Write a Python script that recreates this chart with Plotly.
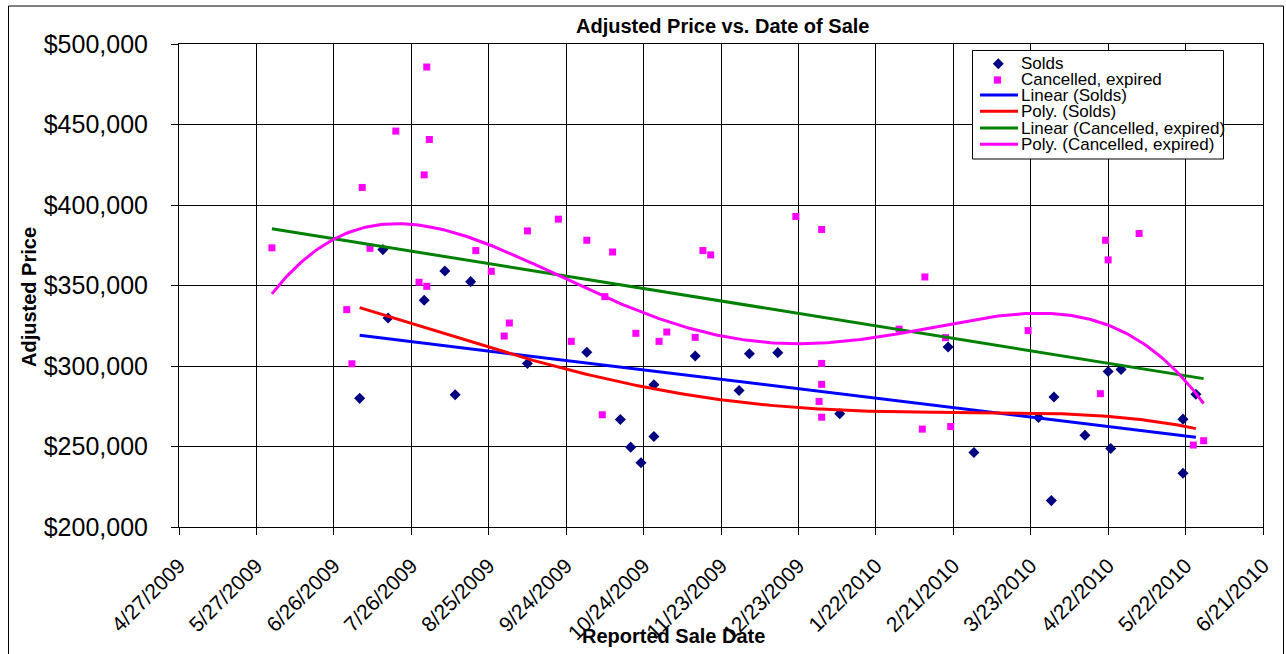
import numpy as np
import pandas as pd
import plotly.graph_objects as go

# ---------------- data ----------------
sold_dates = ["2009-07-06", "2009-07-15", "2009-07-17", "2009-07-31", "2009-08-08",
              "2009-08-12", "2009-08-18", "2009-09-09", "2009-10-02", "2009-10-15",
              "2009-10-19", "2009-10-23", "2009-10-28", "2009-10-28", "2009-11-13",
              "2009-11-30", "2009-12-04", "2009-12-15", "2010-01-08", "2010-02-19",
              "2010-03-01", "2010-03-26", "2010-03-31", "2010-04-01", "2010-04-13",
              "2010-04-22", "2010-04-23", "2010-04-27", "2010-05-21", "2010-05-21",
              "2010-05-26"]
sold_prices = [279900, 372300, 329800, 340800, 359000,
               282100, 352400, 301600, 308500, 266800,
               249600, 239900, 288400, 256200, 306200,
               284800, 307600, 308300, 270300, 311800,
               246300, 268000, 216400, 280700, 257000,
               296600, 248800, 297900, 267000, 233400,
               282400]

canc_dates = ["2009-06-02", "2009-07-01", "2009-07-03", "2009-07-07", "2009-07-10",
              "2009-07-20", "2009-07-29", "2009-07-31", "2009-08-01", "2009-08-01",
              "2009-08-02", "2009-08-20", "2009-08-26", "2009-08-31", "2009-09-02",
              "2009-09-09", "2009-09-21", "2009-09-26", "2009-10-02", "2009-10-08",
              "2009-10-09", "2009-10-12", "2009-10-21", "2009-10-30", "2009-11-02",
              "2009-11-13", "2009-11-16", "2009-11-19", "2009-12-22", "2009-12-31",
              "2010-01-01", "2010-01-01", "2010-01-01", "2010-01-01", "2010-01-31",
              "2010-02-09", "2010-02-10", "2010-02-18", "2010-02-20", "2010-03-22",
              "2010-04-19", "2010-04-21", "2010-04-22", "2010-05-04", "2010-05-25",
              "2010-05-29"]
canc_prices = [373400, 335000, 301400, 410900, 373100,
               445900, 352000, 418700, 485700, 349500,
               440700, 371700, 358800, 318600, 326700,
               383900, 391200, 315300, 378100, 269700,
               343100, 370800, 320300, 315300, 321100,
               317800, 371700, 369000, 392900, 278000,
               384800, 301600, 288600, 268200, 322900,
               260800, 355300, 317600, 262400, 322000,
               282800, 378100, 365900, 382300, 250900,
               253600]

x_tick_dates = ["2009-04-27", "2009-05-27", "2009-06-26", "2009-07-26", "2009-08-25",
                "2009-09-24", "2009-10-24", "2009-11-23", "2009-12-23", "2010-01-22",
                "2010-02-21", "2010-03-23", "2010-04-22", "2010-05-22", "2010-06-21"]
x_tick_labels = ["4/27/2009", "5/27/2009", "6/26/2009", "7/26/2009", "8/25/2009",
                 "9/24/2009", "10/24/2009", "11/23/2009", "12/23/2009", "1/22/2010",
                 "2/21/2010", "3/23/2010", "4/22/2010", "5/22/2010", "6/21/2010"]
y_ticks = [200000, 250000, 300000, 350000, 400000, 450000, 500000]

legend_names = ["Solds", "Cancelled, expired", "Linear (Solds)", "Poly. (Solds)",
                "Linear (Cancelled, expired)", "Poly. (Cancelled, expired)"]

# ---------------- styling ----------------
NAVY = "#000080"
PINK = "#FF00FF"
BLUE = "#0000FF"
RED = "#FF0000"
GREEN = "#008000"
FONT = "Arial, Liberation Sans, sans-serif"

W, H = 1286, 654
ML, MR, MT, MB = 179, 23, 44, 127
PW, PH = W - ML - MR, H - MT - MB


def px(xp):
    return (xp - ML) / PW


def py(yp):
    return (H - MB - yp) / PH


def trend(dates, prices, deg):
    d = pd.to_datetime(pd.Series(dates))
    t0 = d.min()
    t = (d - t0).dt.days.values.astype(float)
    coef = np.polyfit(t, np.asarray(prices, float), deg)
    tt = np.linspace(t.min(), t.max(), 300)
    return t0 + pd.to_timedelta(tt, unit="D"), np.polyval(coef, tt)


fig = go.Figure()

fig.add_trace(go.Scatter(x=sold_dates, y=sold_prices, mode="markers", name=legend_names[0],
                         marker=dict(symbol="diamond", size=8.5, color=NAVY, line=dict(width=0))))
fig.add_trace(go.Scatter(x=canc_dates, y=canc_prices, mode="markers", name=legend_names[1],
                         marker=dict(symbol="square", size=7, color=PINK, line=dict(width=0))))

lx, ly = trend(sold_dates, sold_prices, 1)
fig.add_trace(go.Scatter(x=lx, y=ly, mode="lines", name=legend_names[2], line=dict(color=BLUE, width=3)))
px2, py2 = trend(sold_dates, sold_prices, 4)
fig.add_trace(go.Scatter(x=px2, y=py2, mode="lines", name=legend_names[3], line=dict(color=RED, width=3)))
lx, ly = trend(canc_dates, canc_prices, 1)
fig.add_trace(go.Scatter(x=lx, y=ly, mode="lines", name=legend_names[4], line=dict(color=GREEN, width=3)))
px2, py2 = trend(canc_dates, canc_prices, 4)
fig.add_trace(go.Scatter(x=px2, y=py2, mode="lines", name=legend_names[5], line=dict(color=PINK, width=3)))

shapes = []
annotations = []

# outer chart frame
shapes.append(dict(type="rect", xref="paper", yref="paper",
                   x0=px(8.5), x1=px(1283.5), y0=py(6), y1=py(662),
                   line=dict(color="black", width=1), fillcolor="rgba(0,0,0,0)", layer="below"))

# legend box (custom, drawn as decoration)
shapes.append(dict(type="rect", xref="paper", yref="paper",
                   x0=px(972.5), x1=px(1223.5), y0=py(50.5), y1=py(159),
                   line=dict(color="black", width=1), fillcolor="white", layer="above"))
# diamond symbol
cx, cy, r = 998.3, 63.7, 5.5
shapes.append(dict(type="path", xref="paper", yref="paper",
                   path=f"M {px(cx)},{py(cy - r)} L {px(cx + r)},{py(cy)} L {px(cx)},{py(cy + r)} L {px(cx - r)},{py(cy)} Z",
                   line=dict(width=0), fillcolor=NAVY, layer="above"))
# square symbol
cx, cy, r = 997.5, 80, 3.6
shapes.append(dict(type="rect", xref="paper", yref="paper",
                   x0=px(cx - r), x1=px(cx + r), y0=py(cy - r), y1=py(cy + r),
                   line=dict(width=0), fillcolor=PINK, layer="above"))
line_rows = [95, 111.3, 128, 144.3]
for yy, col in zip(line_rows, [BLUE, RED, GREEN, PINK]):
    shapes.append(dict(type="line", xref="paper", yref="paper",
                       x0=px(980), x1=px(1018), y0=py(yy), y1=py(yy),
                       line=dict(color=col, width=3), layer="above"))
text_rows = [63, 79.5, 95.5, 111.8, 128.3, 144.6]
for yy, name in zip(text_rows, legend_names):
    annotations.append(dict(xref="paper", yref="paper", x=px(1019), y=py(yy), text=name,
                            showarrow=False, xanchor="left", yanchor="middle",
                            font=dict(family=FONT, size=17, color="black")))

# titles
annotations.append(dict(xref="paper", yref="paper", x=px(722), y=py(26),
                        text="<b>Adjusted Price vs. Date of Sale</b>", showarrow=False,
                        xanchor="center", yanchor="middle",
                        font=dict(family=FONT, size=20, color="black")))
annotations.append(dict(xref="paper", yref="paper", x=px(673), y=py(636),
                        text="<b>Reported Sale Date</b>", showarrow=False,
                        xanchor="center", yanchor="middle",
                        font=dict(family=FONT, size=20, color="black")))
annotations.append(dict(xref="paper", yref="paper", x=px(29), y=py(297),
                        text="<b>Adjusted Price</b>", showarrow=False, textangle=-90,
                        xanchor="center", yanchor="middle",
                        font=dict(family=FONT, size=20, color="black")))

fig.update_layout(
    width=W, height=H,
    margin=dict(l=ML, r=MR, t=MT, b=MB, pad=0, autoexpand=False),
    paper_bgcolor="white", plot_bgcolor="white",
    showlegend=False,
    shapes=shapes, annotations=annotations,
    font=dict(family=FONT, color="black"),
)
fig.update_xaxes(
    type="date", range=[x_tick_dates[0], x_tick_dates[-1]],
    tickmode="array", tickvals=x_tick_dates, ticktext=x_tick_labels,
    tickangle=-45, tickfont=dict(family=FONT, size=21, color="black"),
    showgrid=True, gridcolor="black", gridwidth=1,
    showline=True, linecolor="black", linewidth=1, mirror=True,
    ticks="outside", ticklen=7, tickcolor="black", tickwidth=1,
    ticklabelstandoff=10, automargin=False, zeroline=False,
)
fig.update_yaxes(
    range=[200000, 500000], tickmode="array", tickvals=y_ticks,
    tickformat="$,.0f", tickfont=dict(family=FONT, size=25, color="black"),
    showgrid=True, gridcolor="black", gridwidth=1,
    showline=True, linecolor="black", linewidth=1, mirror=True,
    ticks="outside", ticklen=7, tickcolor="black", tickwidth=1,
    ticklabelstandoff=18, automargin=False, zeroline=False,
)

fig.write_html("out.html", config={"displayModeBar": False},
               post_script="document.body.style.margin='0px';")
